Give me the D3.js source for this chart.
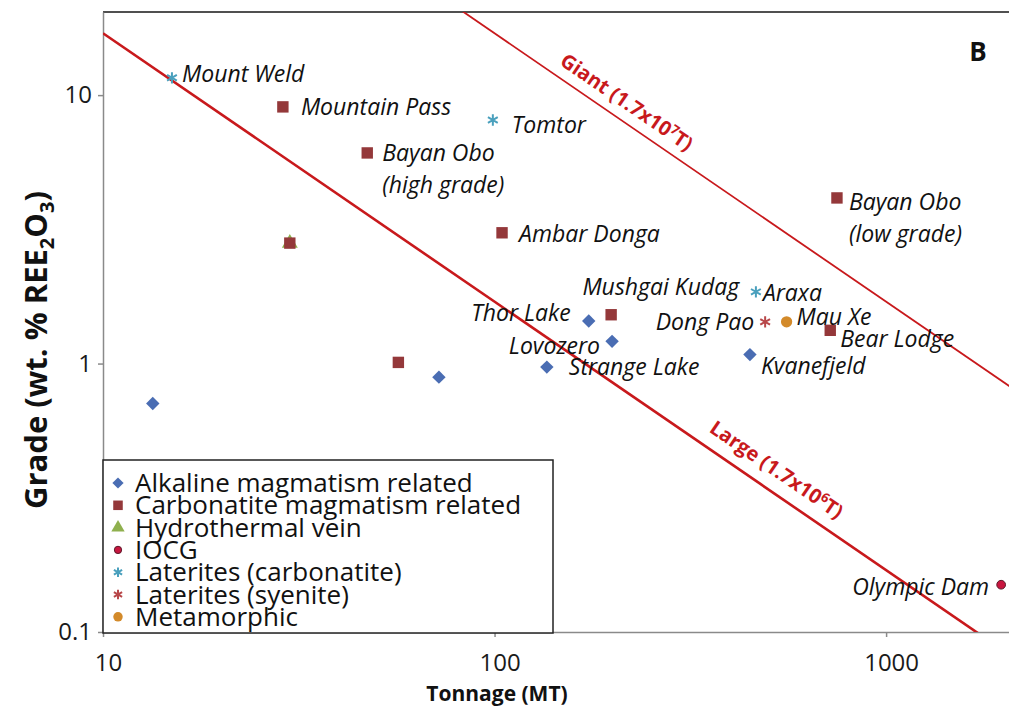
<!DOCTYPE html>
<html>
<head>
<meta charset="utf-8">
<script src="https://cdn.jsdelivr.net/npm/d3@7"></script>
<style>
body { margin: 0; background: #fff; }
svg text { font-family: 'Open Sans', Lato, sans-serif; }
</style>
</head>
<body>
<div class="chart"></div>
<script>
// legend / deposit types
const categories = ['Alkaline magmatism related', 'Carbonatite magmatism related', 'Hydrothermal vein', 'IOCG',
                    'Laterites (carbonatite)', 'Laterites (syenite)', 'Metamorphic']

// deposits: name, tonnage (MT), grade (wt.% REE2O3), type (index into categories)
const sites    = ['Mount Weld', 'Mountain Pass', 'Tomtor', 'Bayan Obo (high grade)', '', '', 'Ambar Donga',
                  'Bayan Obo (low grade)', 'Mushgai Kudag', 'Araxa', 'Thor Lake', 'Lovozero', 'Strange Lake',
                  'Dong Pao', 'Mau Xe', 'Bear Lodge', 'Kvanefjeld', '', '', '', 'Olympic Dam']
const tonnage  = [15.0, 28.8, 99, 47.3, 30.0, 30.0, 104.5, 749, 198.5, 465, 174, 199.6, 136, 491, 557, 720, 449,
                  56.8, 72.1, 13.4, 1967]
const grade    = [11.6, 9.04, 8.08, 6.09, 2.81, 2.81, 3.07, 4.14, 1.52, 1.85, 1.44, 1.21, 0.97, 1.43, 1.43, 1.33, 1.08,
                  1.01, 0.89, 0.71, 0.15]
const depType  = [4, 1, 4, 1, 2, 1, 1, 1, 1, 4, 0, 0, 0, 5, 6, 1, 0, 1, 0, 0, 3]

const xTicks = [10, 100, 1000]
const yTicks = [0.1, 1, 10]

// contained REO cut-offs (tonnes)
const cutoffs     = [1.7e6, 1.7e7]
const cutoffNames = ['Large', 'Giant']
const cutoffExp   = ['6', '7']
const cutoffLabelAt = [490, 205]   // tonnage where the label sits

const w = 1009, h = 707

// marker look per category
const markers = [
  {type: d3.symbolSquare, size: 90, fill: '#4a6db3', rot: 45},
  {type: d3.symbolSquare, size: 130, fill: '#94383a'},
  {type: d3.symbolTriangle, size: 110, fill: '#8fb04e'},
  {type: d3.symbolCircle, size: 60, fill: '#c8163f', stroke: '#5a1a2a'},
  {type: d3.symbolAsterisk, size: 90, stroke: '#4aa0bd', width: 2},
  {type: d3.symbolAsterisk, size: 90, stroke: '#b8484a', width: 2},
  {type: d3.symbolCircle, size: 100, fill: '#d38a2a'}
]

// where each data label goes: [anchor, dx, dy]
const labelPos = {
  'Mount Weld': ['start', 10, -4],
  'Mountain Pass': ['start', 18, 0],
  'Tomtor': ['start', 19, 5],
  'Bayan Obo (high grade)': ['start', 15, 0],
  'Ambar Donga': ['start', 17, 1],
  'Bayan Obo (low grade)': ['start', 12, 4],
  'Mushgai Kudag': ['end', 128, -28],
  'Araxa': ['start', 7, 1],
  'Thor Lake': ['end', -18, -8],
  'Lovozero': ['end', -12, 5],
  'Strange Lake': ['start', 22, 0],
  'Dong Pao': ['end', -11, 0],
  'Mau Xe': ['start', 10, -5],
  'Bear Lodge': ['start', 10, 9],
  'Kvanefjeld': ['start', 11, 11],
  'Olympic Dam': ['end', -12, 2]
}

const mLeft = 103, mRight = 1009, mTop = 12, mBottom = 632

const x = d3.scaleLog().domain([10, 2060]).range([mLeft, mRight])
const y = d3.scaleLog().domain([0.1, 20.4]).range([mBottom, mTop])

const svg = d3.select('.chart')
              .append('svg')
              .attr('width', w)
              .attr('height', h)

svg.append('rect').attr('width', w).attr('height', h).attr('fill', '#fff')

svg.append('clipPath')
   .attr('id', 'plot')
   .append('rect')
   .attr('x', mLeft).attr('y', mTop)
   .attr('width', mRight - mLeft).attr('height', mBottom - mTop)

// top frame
svg.append('line')
   .attr('x1', mLeft).attr('x2', mRight)
   .attr('y1', mTop).attr('y2', mTop)
   .attr('stroke', '#505050')
   .attr('stroke-width', 2)

// axes
const xAxis = svg.append('g')
   .attr('transform', `translate(0,${mBottom})`)
   .call(d3.axisBottom(x).tickValues(xTicks).tickFormat(d3.format('')).tickSize(5).tickSizeOuter(0).tickPadding(17))
const yAxis = svg.append('g')
   .attr('transform', `translate(${mLeft},0)`)
   .call(d3.axisLeft(y).tickValues(yTicks).tickFormat(d => d < 1 ? '0.1' : d3.format('')(d)).tickSize(5).tickSizeOuter(0).tickPadding(6))

;[xAxis, yAxis].forEach(a => {
  a.select('.domain').attr('stroke', '#8a8a8a').attr('stroke-width', 1.5)
  a.selectAll('.tick line').attr('stroke', '#8a8a8a').attr('stroke-width', 1.5)
  a.selectAll('.tick text').attr('fill', '#1a1a1a').style('font-size', '24px').style('font-family', "'Open Sans', sans-serif")
})
xAxis.selectAll('.tick text').attr('dx', 5)

// cut-off lines: grade(%) = cutoff / (tonnage * 1e6) * 100
const gradeAt = (c, t) => c / (t * 1e4)
const lineGen = d3.line().x(d => x(d[0])).y(d => y(d[1]))

const cut = svg.append('g').attr('clip-path', 'url(#plot)')
cutoffs.forEach((c, i) => {
  cut.append('path')
     .attr('d', lineGen([[10, gradeAt(c, 10)], [20000, gradeAt(c, 20000)]]))
     .attr('stroke', '#c8191c')
     .attr('stroke-width', i == 0 ? 2.6 : 1.8)
     .attr('fill', 'none')
})

const angle = Math.atan2(y(0.1) - y(1), x(10) - x(1)) * 180 / Math.PI
cutoffs.forEach((c, i) => {
  const t = cutoffLabelAt[i]
  const lbl = svg.append('text')
     .attr('transform', `translate(${x(t)},${y(gradeAt(c, t))}) rotate(${angle})`)
     .attr('y', i == 0 ? -14 : -11)
     .attr('text-anchor', 'middle')
     .attr('fill', '#c8191c')
     .style('font-size', '20px')
     .style('font-weight', 'bold')
  lbl.append('tspan').text(`${cutoffNames[i]} (1.7x10`)
  lbl.append('tspan').text(cutoffExp[i]).attr('dy', -7).style('font-size', '13px')
  lbl.append('tspan').text('T)').attr('dy', 7)
})

// points
const pts = svg.append('g')
sites.forEach((s, i) => {
  const m = markers[depType[i]]
  pts.append('path')
     .attr('d', d3.symbol().type(m.type).size(m.size)())
     .attr('transform', `translate(${x(tonnage[i])},${y(grade[i])}) rotate(${m.rot || 0})`)
     .attr('fill', m.fill || 'none')
     .attr('stroke', m.stroke || 'none')
     .attr('stroke-width', m.width || 1)
})

// data labels
sites.forEach((s, i) => {
  if (!s) return
  const p = labelPos[s]
  const lines = s.startsWith('Bayan Obo') ? ['Bayan Obo', s.slice(10)] : [s]
  const t = svg.append('text')
     .attr('x', x(tonnage[i]) + p[1])
     .attr('y', y(grade[i]) + p[2])
     .attr('text-anchor', p[0])
     .attr('fill', '#111')
     .style('font-size', '23px')
     .style('font-style', 'italic')
  lines.forEach((l, j) => {
    t.append('tspan')
     .attr('x', x(tonnage[i]) + p[1])
     .attr('dy', j == 0 ? '0.35em' : 32)
     .text(l)
  })
})

// panel letter
svg.append('text')
   .attr('x', 978).attr('y', 61)
   .attr('text-anchor', 'middle')
   .style('font-size', '26px').style('font-weight', 'bold')
   .attr('fill', '#111')
   .text('B')

// axis titles
svg.append('text')
   .attr('x', 497).attr('y', 701)
   .attr('text-anchor', 'middle')
   .style('font-size', '21px').style('font-weight', 'bold')
   .attr('fill', '#111')
   .text('Tonnage (MT)')

const yt = svg.append('text')
   .attr('transform', 'translate(47,350) rotate(-90)')
   .attr('text-anchor', 'middle')
   .style('font-size', '31px').style('font-weight', 'bold')
   .attr('fill', '#111')
yt.append('tspan').text('Grade (wt. % REE')
yt.append('tspan').text('2').attr('dy', 7).style('font-size', '20px')
yt.append('tspan').text('O').attr('dy', -7)
yt.append('tspan').text('3').attr('dy', 7).style('font-size', '20px')
yt.append('tspan').text(')').attr('dy', -7)

// legend
const legend = svg.append('g').attr('id', 'legend')
legend.append('rect')
      .attr('x', 103).attr('y', 460)
      .attr('width', 450).attr('height', 173)
      .attr('fill', '#fff')
      .attr('stroke', '#222')
      .attr('stroke-width', 1.5)

categories.forEach((c, i) => {
  const m = markers[i]
  const ly = 483 + i * 22.3
  legend.append('path')
        .attr('d', d3.symbol().type(m.type).size(m.size * 0.7)())
        .attr('transform', `translate(118,${ly}) rotate(${m.rot || 0})`)
        .attr('fill', m.fill || 'none')
        .attr('stroke', m.stroke || 'none')
        .attr('stroke-width', m.width || 1)
  legend.append('text')
        .attr('x', 135).attr('y', ly)
        .attr('dy', '0.35em')
        .attr('fill', '#111')
        .style('font-size', '26px')
        .text(c)
})
</script>
</body>
</html>
